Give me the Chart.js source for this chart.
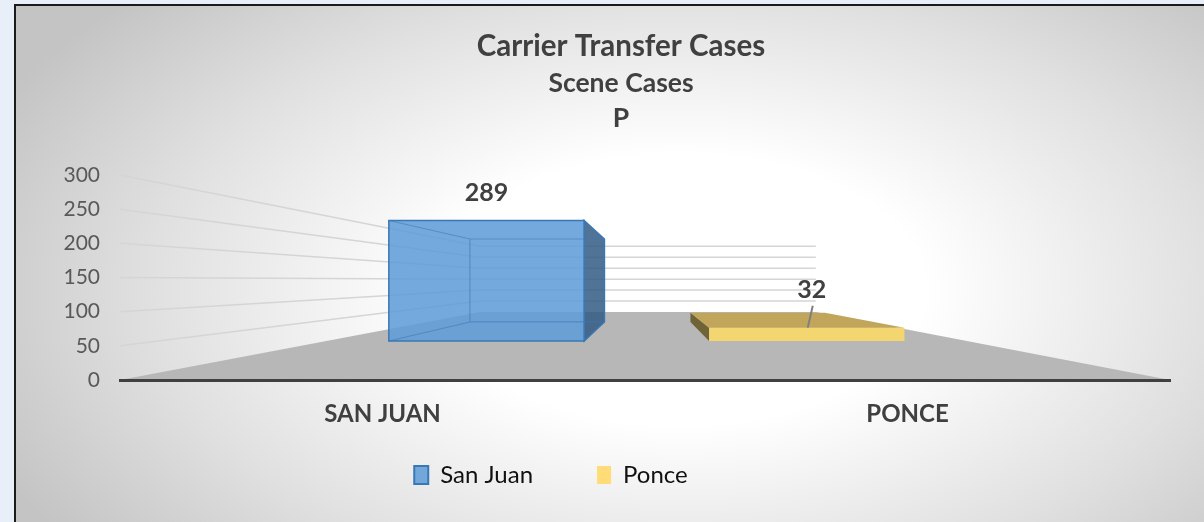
<!DOCTYPE html>
<html>
<head>
<meta charset="utf-8">
<script src="https://cdn.jsdelivr.net/npm/chart.js@4.4.1/dist/chart.umd.min.js"></script>
<style>
  body { margin: 0; background: #e8eff9; }
  #frame {
    position: absolute; left: 14px; top: 4px; width: 1190px; height: 518px; box-sizing: border-box;
    border-top: 2px solid #1b1b1b; border-left: 2px solid #1b1b1b;
    background: radial-gradient(ellipse 64% 82% at 56% 55%, #ffffff 0%, #ffffff 32%, #e0e0e0 70%, #c4c4c4 100%);
  }
  canvas { display: block; }
</style>
</head>
<body>
<div id="frame"><canvas id="chart" width="1188" height="516"></canvas></div>
<script>
const categories = ['SAN JUAN', 'PONCE']
const seriesNames = ['San Juan', 'Ponce']
const sanJuanCases = [289, null]
const ponceCases = [null, 32]
const yTickValues = [0, 50, 100, 150, 200, 250, 300]

const FONT = 'Lato'
// how far (0 = front, 1 = vanishing point) each plane sits
const depth = { wallBack: 0.68, barFront: 0.39, barBack: 0.58 }
const titleShift = 28
const legendShift = 42
const legendTop = 393

const barStyles = [
  { front: 'rgba(96,157,216,0.88)', side: 'rgba(50,90,132,0.85)', top: 'rgba(80,130,190,0.9)', edge: '#3a78b5', back: 'rgba(58,120,181,0.55)' },
  { front: '#f3d670', side: '#6f6338', top: '#c1a55a', edge: null, back: null }
]

function vanish(a) {
  return { x: a.left + 0.504 * (a.right - a.left), y: a.top + 0.512 * (a.bottom - a.top) }
}
function proj(vp, x, y, f) {
  return [x + f * (vp.x - x), y + f * (vp.y - y)]
}
function poly(ctx, pts, fill, stroke, lw) {
  ctx.beginPath()
  ctx.moveTo(pts[0][0], pts[0][1])
  for (let i = 1; i < pts.length; i++) ctx.lineTo(pts[i][0], pts[i][1])
  ctx.closePath()
  if (fill) { ctx.fillStyle = fill; ctx.fill() }
  if (stroke) { ctx.strokeStyle = stroke; ctx.lineWidth = lw || 1.5; ctx.stroke() }
}

const perspective = {
  id: 'perspective',
  afterLayout(chart) {
    // nudge title blocks and legend to where the original had them
    chart.boxes.forEach(b => {
      if (b === chart.legend || b.axis || !b.options || !('text' in b.options)) return
      b.left += titleShift
      b.right += titleShift
    })
    const lg = chart.legend
    const h = lg.bottom - lg.top
    lg.left -= legendShift
    lg.right -= legendShift
    lg.top = legendTop
    lg.bottom = legendTop + Math.max(h, 100)
  },
  beforeDraw(chart) {
    const { ctx, chartArea: a, scales: { y } } = chart
    const vp = vanish(a)
    const fb = depth.wallBack
    ctx.save()
    // floor
    poly(ctx, [[a.left, a.bottom], proj(vp, a.left, a.bottom, fb), proj(vp, a.right, a.bottom, fb), [a.right, a.bottom]], '#b7b7b7')
    // gridlines on side wall + back wall
    ctx.strokeStyle = '#d5d5d5'
    ctx.lineWidth = 1.5
    y.ticks.forEach(t => {
      if (t.value === 0) return
      const py = y.getPixelForValue(t.value)
      const b1 = proj(vp, a.left, py, fb)
      const b2 = proj(vp, a.right, py, fb)
      ctx.beginPath()
      ctx.moveTo(a.left, py)
      ctx.lineTo(b1[0], b1[1])
      ctx.lineTo(b2[0], b2[1])
      ctx.stroke()
    })
    ctx.restore()
  },
  beforeDatasetsDraw(chart) {
    const { ctx, chartArea: a } = chart
    const vp = vanish(a)
    ctx.save()
    chart.data.datasets.forEach((ds, i) => {
      const meta = chart.getDatasetMeta(i)
      const s = barStyles[i]
      meta.data.forEach((bar, j) => {
        if (ds.data[j] == null) return
        const { x, y, base, width } = bar.getProps(['x', 'y', 'base', 'width'], true)
        const l = x - width / 2, r = x + width / 2
        const F = (px, py) => proj(vp, px, py, depth.barFront)
        const B = (px, py) => proj(vp, px, py, depth.barBack)
        const f = [F(l, y), F(r, y), F(r, base), F(l, base)]
        const b = [B(l, y), B(r, y), B(r, base), B(l, base)]
        if (f[1][0] < vp.x) poly(ctx, [f[1], b[1], b[2], f[2]], s.side, s.edge)
        if (f[0][0] > vp.x) poly(ctx, [f[0], b[0], b[3], f[3]], s.side, s.edge)
        if (f[0][1] > vp.y) poly(ctx, [f[0], f[1], b[1], b[0]], s.top, s.edge)
        poly(ctx, f, s.front, s.edge, 1.5)
        if (s.back) {
          ctx.strokeStyle = s.back
          ctx.lineWidth = 1.2
          ctx.beginPath()
          ctx.moveTo(f[0][0], f[0][1]); ctx.lineTo(b[0][0], b[0][1])
          ctx.lineTo(b[1][0], b[1][1])
          ctx.moveTo(b[0][0], b[0][1]); ctx.lineTo(b[3][0], b[3][1])
          ctx.lineTo(b[2][0], b[2][1])
          ctx.moveTo(b[3][0], b[3][1]); ctx.lineTo(f[3][0], f[3][1])
          ctx.stroke()
        }
        // value label
        const cx = (f[0][0] + f[1][0]) / 2
        const ly = Math.min(f[0][1] - 28, b[0][1] - 23)
        const leader = f[0][1] - ly > 35
        ctx.font = 'bold 25px ' + FONT
        ctx.fillStyle = '#404040'
        ctx.textAlign = 'center'
        ctx.textBaseline = 'middle'
        ctx.fillText(ds.data[j], cx + (leader ? 5 : 0), ly)
        if (leader) {
          ctx.strokeStyle = '#7f7f7f'
          ctx.lineWidth = 2
          ctx.beginPath()
          ctx.moveTo(cx + 6, ly + 16)
          ctx.lineTo(cx + 1, f[0][1])
          ctx.stroke()
        }
      })
    })
    ctx.restore()
    return false
  }
}

new Chart(document.getElementById('chart'), {
  type: 'bar',
  data: {
    labels: categories,
    datasets: [
      { label: seriesNames[0], data: sanJuanCases, backgroundColor: '#72a7dc', borderColor: '#3a78b5', borderWidth: 2, skipNull: true },
      { label: seriesNames[1], data: ponceCases, backgroundColor: '#ffdc78', borderColor: '#ffdc78', borderWidth: 0, skipNull: true }
    ]
  },
  options: {
    responsive: false,
    animation: false,
    devicePixelRatio: 1,
    categoryPercentage: 1,
    barPercentage: 0.61,
    layout: { padding: { left: 0, right: 34, top: 0, bottom: 0 } },
    scales: {
      x: {
        grid: { display: false },
        border: { display: true, color: '#404040', width: 3 },
        ticks: { color: '#404040', padding: 12, font: { family: FONT, size: 24, weight: 'bold' } },
        afterFit(scale) { scale.height = 50 }
      },
      y: {
        min: 0,
        max: 300,
        grid: { display: false },
        border: { display: false },
        afterBuildTicks(scale) { scale.ticks = yTickValues.map(v => ({ value: v })) },
        ticks: { color: '#595959', padding: 12, font: { family: FONT, size: 21 } },
        afterFit(scale) { scale.width = 104 }
      }
    },
    plugins: {
      title: {
        display: true,
        text: 'Carrier Transfer Cases',
        color: '#404040',
        font: { family: FONT, size: 29.5, weight: 'bold' },
        padding: { top: 22.3, bottom: 0 }
      },
      subtitle: {
        display: true,
        text: ['Scene Cases', 'P'],
        color: '#404040',
        font: { family: FONT, size: 26.5, weight: 'bold', lineHeight: 1.32 },
        padding: { top: 1.8, bottom: 39.5 }
      },
      legend: {
        position: 'bottom',
        maxHeight: 92,
        labels: { boxWidth: 14, boxHeight: 18, padding: 64, color: '#111111', font: { family: FONT, size: 24 } }
      },
      tooltip: { enabled: false }
    }
  },
  plugins: [perspective]
})
</script>
</body>
</html>
